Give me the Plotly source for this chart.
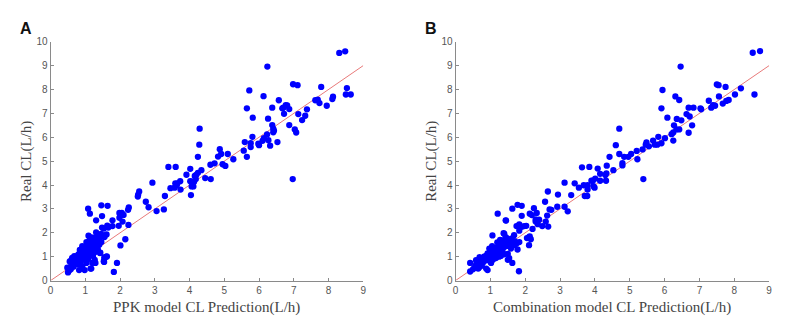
import plotly.graph_objects as go

# Panel A: PPK model predictions vs observed clearance (L/h)
pred_a = [8.31, 8.48, 6.24, 8.53, 8.50, 8.64, 7.79, 8.13, 8.11, 7.95, 7.62, 7.69, 7.74, 7.38, 7.33, 7.24,
          7.13, 6.98, 7.11, 7.03, 7.07, 6.97, 6.87, 6.87, 6.77, 6.81, 6.70, 6.67, 6.72, 6.57, 6.38, 6.13,
          5.72, 5.65, 5.82, 6.26, 6.38, 6.41, 6.43, 6.41, 5.81, 6.14, 6.10, 6.27, 6.23, 5.98, 6.00, 6.32,
          6.53, 5.76, 5.76, 5.59, 5.56, 5.65, 5.26, 5.10, 4.87, 4.91, 4.82, 4.95, 5.03, 4.72, 4.60, 4.61,
          4.45, 4.29, 4.28, 4.24, 4.34, 4.24, 4.19, 4.15, 4.18, 4.13, 4.06, 4.02, 4.11, 4.06, 4.04, 4.02,
          3.91, 3.73, 3.74, 3.63, 3.59, 3.65, 3.57, 3.60, 3.39, 3.45, 3.29, 3.26, 3.05, 2.93, 2.82, 2.74,
          2.55, 2.52, 2.51, 2.25, 2.23, 2.24, 2.15, 2.10, 2.05, 1.98, 2.07, 1.98, 1.96, 2.01, 1.91, 1.82,
          1.78, 1.78, 1.66, 1.63, 1.64, 1.46, 1.48, 1.08, 1.13, 1.31, 1.48, 1.53, 1.55, 1.61, 1.55, 1.54,
          1.60, 1.42, 1.15, 1.29,
          0.50, 0.53, 0.55, 0.48, 0.52, 0.58, 0.65, 0.60, 0.70, 0.72, 0.79, 0.82, 0.91, 0.98, 0.74, 0.86,
          0.93, 0.91, 1.01, 1.05, 1.09, 1.17, 1.22, 1.27, 1.31, 1.30, 1.36, 1.41, 1.46, 1.12, 1.22, 1.27,
          1.20, 1.17, 1.03, 1.08, 0.93, 1.43, 1.55, 1.53, 1.62, 0.84, 0.98, 1.12, 1.17, 1.27, 1.36, 1.03,
          1.12, 1.22, 1.31, 0.79, 0.70, 0.60, 0.66, 0.75, 0.85, 0.88, 0.95, 1.00, 1.05, 1.10, 1.15, 1.18,
          1.25, 1.33, 1.38, 1.45, 1.50, 1.40, 0.95, 0.80, 1.00, 1.08, 1.20, 1.28, 0.62, 0.68, 0.55]
real_a = [9.53, 9.60, 8.96, 8.06, 7.79, 7.79, 8.11, 7.70, 7.60, 7.32, 7.55, 7.58, 7.43, 7.17, 6.90, 6.72,
          6.97, 8.22, 8.18, 6.33, 6.20, 4.25, 6.51, 7.18, 7.35, 7.33, 7.24, 7.21, 6.98, 7.55, 7.24, 7.72,
          7.96, 7.21, 6.82, 6.78, 6.51, 6.36, 6.28, 6.21, 6.02, 5.96, 5.85, 5.88, 6.12, 5.73, 5.67, 5.65,
          5.80, 5.75, 5.59, 5.80, 5.44, 5.18, 5.08, 5.30, 5.50, 5.30, 5.19, 4.87, 4.80, 4.91, 4.85, 4.25,
          4.29, 6.36, 5.69, 5.18, 4.62, 4.51, 4.42, 4.38, 4.25, 4.14, 4.14, 4.16, 3.94, 3.94, 3.58, 4.68,
          4.43, 4.16, 3.81, 3.99, 4.07, 4.07, 3.89, 4.76, 4.76, 3.87, 3.54, 2.98, 2.91, 4.10, 3.07, 3.30,
          3.73, 3.60, 3.52, 3.06, 2.96, 2.33, 1.73, 2.75, 2.83, 2.83, 2.47, 2.63, 2.29, 1.47, 0.74, 0.36,
          2.28, 2.52, 2.22, 2.30, 3.13, 3.15, 2.70, 3.01, 2.80, 2.52, 2.22, 2.18, 1.82, 1.93, 0.98, 0.78,
          1.00, 1.15, 0.50, 0.74,
          0.34, 0.44, 0.54, 0.54, 0.40, 0.47, 0.77, 0.87, 0.94, 0.85, 0.67, 0.44, 0.60, 0.44, 1.01, 1.08,
          1.21, 1.44, 1.41, 1.55, 1.88, 1.81, 1.71, 1.81, 2.02, 1.61, 1.57, 1.68, 1.61, 1.14, 1.03, 0.87,
          0.74, 0.50, 0.74, 0.90, 0.87, 1.17, 0.94, 0.81, 1.01, 1.28, 1.34, 1.34, 1.48, 1.34, 1.30, 1.61,
          1.68, 1.41, 1.41, 0.94, 0.74, 0.63, 0.58, 0.78, 0.72, 0.95, 1.05, 1.12, 1.25, 1.05, 1.22, 1.35,
          1.55, 1.75, 1.85, 1.95, 1.88, 1.50, 1.25, 1.10, 0.95, 1.45, 1.60, 1.20, 0.95, 1.02, 0.80]

# Panel B: combination model predictions vs observed clearance (L/h)
pred_b = [8.53, 8.74, 6.46, 5.94, 8.19, 8.02, 8.58, 7.50, 7.55, 7.75, 7.56, 7.67, 7.77, 7.84, 7.39, 7.45,
          7.34, 7.27, 7.03, 7.05, 6.31, 6.42, 5.91, 6.08, 6.35, 6.48, 6.69, 6.83, 6.72, 6.63, 6.79, 6.69,
          6.27, 6.34, 6.42, 6.25, 6.20, 6.25, 6.01, 5.91, 5.82, 5.72, 5.79, 5.67, 5.55, 5.48, 5.46, 5.37,
          5.39, 5.22, 5.20, 5.04, 4.96, 4.84, 4.70, 4.60, 4.70, 4.79, 4.79, 4.53, 4.42, 4.34, 4.33, 4.30,
          4.32, 4.15, 4.15, 4.08, 4.01, 3.94, 3.90, 3.99, 3.96, 3.84, 3.63, 3.79, 3.79, 3.68, 3.71, 3.78,
          3.54, 3.42, 3.32, 3.22, 3.13, 3.13, 2.92, 2.94, 2.75, 2.70, 2.65, 2.63, 2.57, 2.59, 2.66, 2.49,
          2.30, 2.25, 2.33, 2.30, 2.13, 2.19, 2.21, 2.13, 2.16, 2.11, 2.03, 1.90, 1.83, 1.78, 1.90, 1.63,
          1.90, 1.80, 1.21, 1.44, 1.63, 1.82, 1.06, 1.38, 1.50, 2.36, 2.40,
          0.42, 0.42, 0.50, 0.54, 0.59, 0.59, 0.67, 0.69, 0.73, 0.78, 0.88, 0.88, 0.92, 0.83, 0.92, 0.97,
          1.02, 0.97, 1.05, 1.11, 1.16, 1.21, 1.26, 1.30, 1.35, 1.40, 1.45, 1.50, 1.54, 1.45, 1.16, 1.30,
          1.35, 1.07, 1.02, 1.54, 1.50, 1.59, 1.69, 1.75, 1.83, 1.78, 1.75, 1.83, 1.97, 2.10, 2.05, 0.62,
          0.70, 0.80, 0.85, 0.90, 0.95, 1.00, 1.05, 1.10, 1.15, 1.20, 1.25, 1.30, 1.35, 1.40, 1.45, 1.50,
          1.55, 1.60, 1.65, 1.70, 1.25, 1.12, 1.00, 0.75, 0.65, 1.40, 1.60, 1.68, 1.20, 1.28]
real_b = [9.54, 9.61, 8.96, 7.98, 8.05, 7.79, 7.79, 8.21, 8.18, 8.11, 7.71, 7.41, 7.52, 7.56, 7.35, 7.32,
          7.24, 7.53, 7.21, 7.17, 7.71, 7.56, 7.21, 6.82, 6.77, 6.71, 7.24, 7.24, 6.87, 6.97, 6.50, 6.19,
          6.50, 6.33, 6.33, 6.20, 6.13, 5.86, 5.96, 5.75, 6.02, 5.69, 5.69, 5.86, 5.62, 5.78, 5.69, 5.49,
          4.25, 5.08, 5.43, 5.30, 5.18, 5.18, 5.30, 5.67, 6.36, 4.92, 4.82, 4.62, 5.18, 4.81, 4.49, 4.42,
          4.18, 4.47, 4.18, 4.69, 4.27, 4.18, 4.18, 3.89, 3.95, 4.76, 4.74, 3.99, 3.81, 3.99, 3.54, 3.54,
          3.89, 4.07, 3.58, 2.90, 4.10, 3.09, 3.09, 3.60, 2.96, 2.98, 3.73, 2.72, 3.30, 2.47, 2.26, 2.28,
          2.47, 3.03, 2.83, 2.56, 2.80, 2.74, 2.16, 1.85, 1.73, 1.48, 2.29, 2.25, 2.09, 3.17, 3.13, 3.01,
          2.71, 2.29, 2.80, 2.52, 0.74, 0.39, 1.89, 1.98, 1.12, 2.36, 2.55,
          0.74, 0.38, 0.47, 0.54, 0.67, 0.85, 0.54, 0.98, 0.90, 0.74, 0.85, 0.50, 0.44, 1.01, 1.14, 1.01,
          1.21, 1.34, 1.44, 1.34, 1.28, 1.41, 1.55, 1.48, 1.68, 1.95, 1.81, 1.61, 1.68, 2.51, 0.94, 1.03,
          1.21, 0.87, 0.74, 0.94, 0.87, 1.34, 1.48, 1.55, 1.61, 1.30, 2.28, 2.35, 2.28, 1.81, 1.78, 0.60,
          0.70, 0.80, 0.95, 1.05, 0.90, 1.10, 1.00, 1.15, 1.10, 1.25, 1.20, 1.30, 1.45, 1.40, 1.50, 1.45,
          1.55, 1.60, 1.50, 1.65, 1.00, 1.20, 0.80, 0.62, 0.50, 1.10, 1.75, 1.90, 1.60, 1.70]

identity = [0, 9]
x_ticks = list(range(0, 10))
y_ticks = list(range(0, 11))
x_titles = ["PPK model CL Prediction(L/h)", "Combination model CL Prediction(L/h)"]
y_title = "Real CL(L/h)"
panel_tags = ["A", "B"]

W, H = 787, 332
DOT = "#0000ff"
LINE = "#e87a7a"
AXIS = "#8a8a8a"

fig = go.Figure()

panels = [(pred_a, real_a, "x", "y"), (pred_b, real_b, "x2", "y2")]
for px, py, xa, ya in panels:
    fig.add_trace(go.Scatter(x=identity, y=identity, mode="lines", xaxis=xa, yaxis=ya,
                             line=dict(color=LINE, width=1), hoverinfo="skip", showlegend=False))
    fig.add_trace(go.Scatter(x=px, y=py, mode="markers", xaxis=xa, yaxis=ya,
                             marker=dict(color=DOT, size=6.3, line=dict(width=0)), showlegend=False))

# plot area in pixels: left/right edges of each panel, shared top/bottom
x_px = [(48, 363), (456, 772)]
y_bottom, y_top = 285, 38
ydom = [1 - y_bottom / H, 1 - y_top / H]

def axis_common():
    return dict(showline=True, linecolor=AXIS, linewidth=1, ticks="inside", ticklen=3,
                tickcolor=AXIS, tickfont=dict(family="Liberation Sans, Arial", size=10, color="#555555"),
                showgrid=False, zeroline=False, mirror=False)

layout = dict(width=W, height=H, margin=dict(l=0, r=0, t=0, b=0),
              paper_bgcolor="white", plot_bgcolor="white", showlegend=False)
for i, (x0, x1) in enumerate(x_px):
    sx = "" if i == 0 else "2"
    layout["xaxis" + sx] = dict(axis_common(), domain=[x0 / W, x1 / W], range=[0, 9],
                                tickvals=x_ticks, anchor="y" + sx)
    layout["yaxis" + sx] = dict(axis_common(), domain=ydom, range=[0, 10],
                                tickvals=y_ticks, anchor="x" + sx)
fig.update_layout(**layout)

title_font = dict(family="Liberation Serif, Times New Roman", size=15, color="#444444")
ann = []
for i, (x0, x1) in enumerate(x_px):
    ann.append(dict(text=x_titles[i], xref="paper", yref="paper", x=(x0 + x1) / 2 / W,
                    y=1 - 313 / H, xanchor="center", yanchor="middle", showarrow=False,
                    font=title_font))
    ann.append(dict(text=y_title, xref="paper", yref="paper", x=(x0 - 25) / W,
                    y=1 - (y_bottom + y_top) / 2 / H, xanchor="center", yanchor="middle",
                    textangle=-90, showarrow=False, font=title_font))
    ann.append(dict(text="<b>%s</b>" % panel_tags[i], xref="paper", yref="paper",
                    x=(x0 - 33) / W, y=1 - 24 / H, xanchor="left", yanchor="middle",
                    showarrow=False, font=dict(family="Liberation Sans, Arial", size=16, color="#111111")))
fig.update_layout(annotations=ann)

fig.write_html("out.html")
